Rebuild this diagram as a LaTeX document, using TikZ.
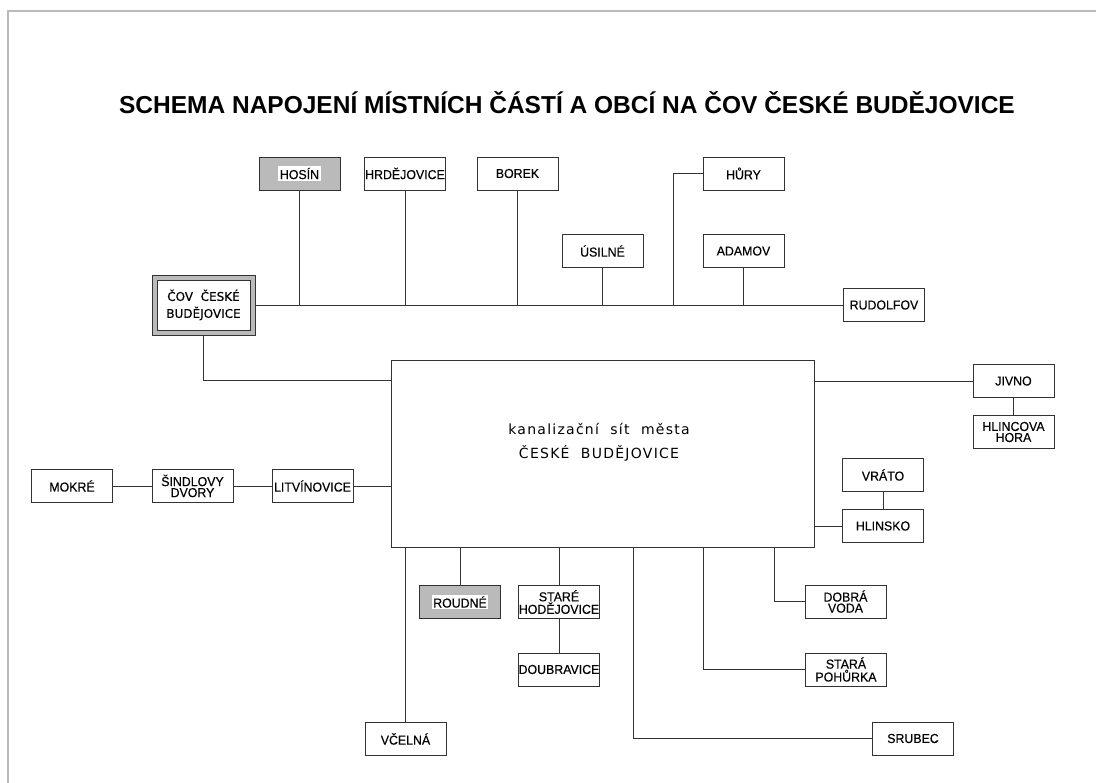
\documentclass[tikz,border=0pt]{standalone}
\usepackage{fontspec}
\setmainfont{Liberation Sans}
\newfontfamily\lib{Liberation Sans}
\newfontfamily\libn{Liberation Sans}[FakeStretch=0.95,FakeBold=0.3]
\newfontfamily\dvs{DejaVu Sans}[FakeBold=0.3]
\newfontfamily\dvsw{DejaVu Sans}[LetterSpace=9]
\begin{document}
\begin{tikzpicture}[x=1pt,y=-1pt,
  conn/.style={draw=black!80, line width=0.9pt},
  town/.style={draw=black!80, line width=0.9pt, fill=white, minimum width=81pt, minimum height=33pt,
    inner sep=0pt, align=center, font=\libn\fontsize{13}{11}\selectfont},
  graytown/.style={town, fill=black!27},
  bigbox/.style={draw=black!80, line width=0.9pt, minimum width=423pt, minimum height=187pt, inner sep=0pt},
  frameline/.style={draw=black!27, line width=2pt}
]
\useasboundingbox (0,0) rectangle (1096,783);
\fill[white] (0,0) rectangle (1096,783);
\draw[frameline] (8,783) -- (8,11) -- (1096,11);

% title
\node[font=\lib\bfseries\fontsize{24.5}{28}\selectfont] (title) at (567,103)
  {SCHEMA NAPOJENÍ MÍSTNÍCH ČÁSTÍ A OBCÍ NA ČOV ČESKÉ BUDĚJOVICE};

% central box
\node[bigbox] (big) at (602.5,453.5) {};
\node[font=\dvsw\fontsize{14}{24}\selectfont, align=center] (bigtext) at (599,442)
  {kanalizační\ \ sít\ \ města\\ČESKÉ\ \ BUDĚJOVICE};

% ČOV
\node[draw=black!80, line width=0.9pt, fill=black!27, minimum width=103pt, minimum height=60pt, inner sep=0pt] (cov) at (203.5,305) {};
\node[draw=black!80, line width=0.9pt, fill=white, minimum width=93pt, minimum height=50pt, inner sep=0pt,
  align=center, font=\dvs\fontsize{12}{17}\selectfont] (covin) at (203.5,305) {ČOV\ \ ČESKÉ\\BUDĚJOVICE};

% top row
\node[graytown] (hosin) at (299.5,173.5) {\setlength{\fboxsep}{1.5pt}\colorbox{white}{HOSÍN}};
\node[town] (hrd) at (405,173.5) {HRDĚJOVICE};
\node[town] (borek) at (517.5,173.5) {BOREK};
\node[town] (usilne) at (602.5,251) {ÚSILNÉ};
\node[town] (hury) at (743.5,173.5) {HŮRY};
\node[town] (adamov) at (743.5,251) {ADAMOV};
\node[town] (rud) at (884,305) {RUDOLFOV};

% right side
\node[town] (jivno) at (1013.5,381) {JIVNO};
\node[town] (hhora) at (1013.5,432) {HLINCOVA\\HORA};
\node[town] (vrato) at (883,475) {VRÁTO};
\node[town] (hlinsko) at (883,526) {HLINSKO};

% left side
\node[town] (mokre) at (72,486) {MOKRÉ};
\node[town] (sind) at (192.5,486) {ŠINDLOVY\\DVORY};
\node[town] (litv) at (312.5,486) {LITVÍNOVICE};

% bottom
\node[town] (vcelna) at (405.5,739) {VČELNÁ};
\node[graytown] (roudne) at (460,602) {\setlength{\fboxsep}{1.5pt}\colorbox{white}{ROUDNÉ}};
\node[town] (starehod) at (559,602) {STARÉ\\HODĚJOVICE};
\node[town] (doubr) at (559,669.5) {DOUBRAVICE};
\node[town] (dobra) at (845.5,601.5) {DOBRÁ\\VODA};
\node[town] (pohurka) at (846,669.5) {STARÁ\\POHŮRKA};
\node[town] (srubec) at (913,738.5) {SRUBEC};

% helper coordinates
\coordinate (ymain) at (0,305);
\coordinate (y380) at (0,380);
\coordinate (xhury) at (673,0);
\coordinate (xsrubec) at (633,0);
\coordinate (xpoh) at (703,0);
\coordinate (xdobra) at (774,0);

% main collector
\draw[conn] (cov.east) -- (rud.west);
\draw[conn] (hosin.south) -- (hosin.south |- ymain);
\draw[conn] (hrd.south) -- (hrd.south |- ymain);
\draw[conn] (borek.south) -- (borek.south |- ymain);
\draw[conn] (usilne.south) -- (usilne.south |- ymain);
\draw[conn] (adamov.south) -- (adamov.south |- ymain);
\draw[conn] (hury.west) -| (xhury |- ymain);

% ČOV to city network
\draw[conn] (cov.south) |- (big.west |- y380);

% right
\draw[conn] (jivno.west) -- (jivno.west -| big.east);
\draw[conn] (jivno.south) -- (hhora.north);
\draw[conn] (vrato.south) -- (hlinsko.north);
\draw[conn] (hlinsko.west) -- (hlinsko.west -| big.east);

% left
\draw[conn] (mokre.east) -- (sind.west);
\draw[conn] (sind.east) -- (litv.west);
\draw[conn] (litv.east) -- (litv.east -| big.west);

% bottom
\draw[conn] (vcelna.north) -- (vcelna.north |- big.south);
\draw[conn] (roudne.north) -- (roudne.north |- big.south);
\draw[conn] (starehod.north) -- (starehod.north |- big.south);
\draw[conn] (starehod.south) -- (doubr.north);
\draw[conn] (srubec.west) -| (xsrubec |- big.south);
\draw[conn] (pohurka.west) -| (xpoh |- big.south);
\draw[conn] (dobra.west) -| (xdobra |- big.south);
\end{tikzpicture}
\end{document}
